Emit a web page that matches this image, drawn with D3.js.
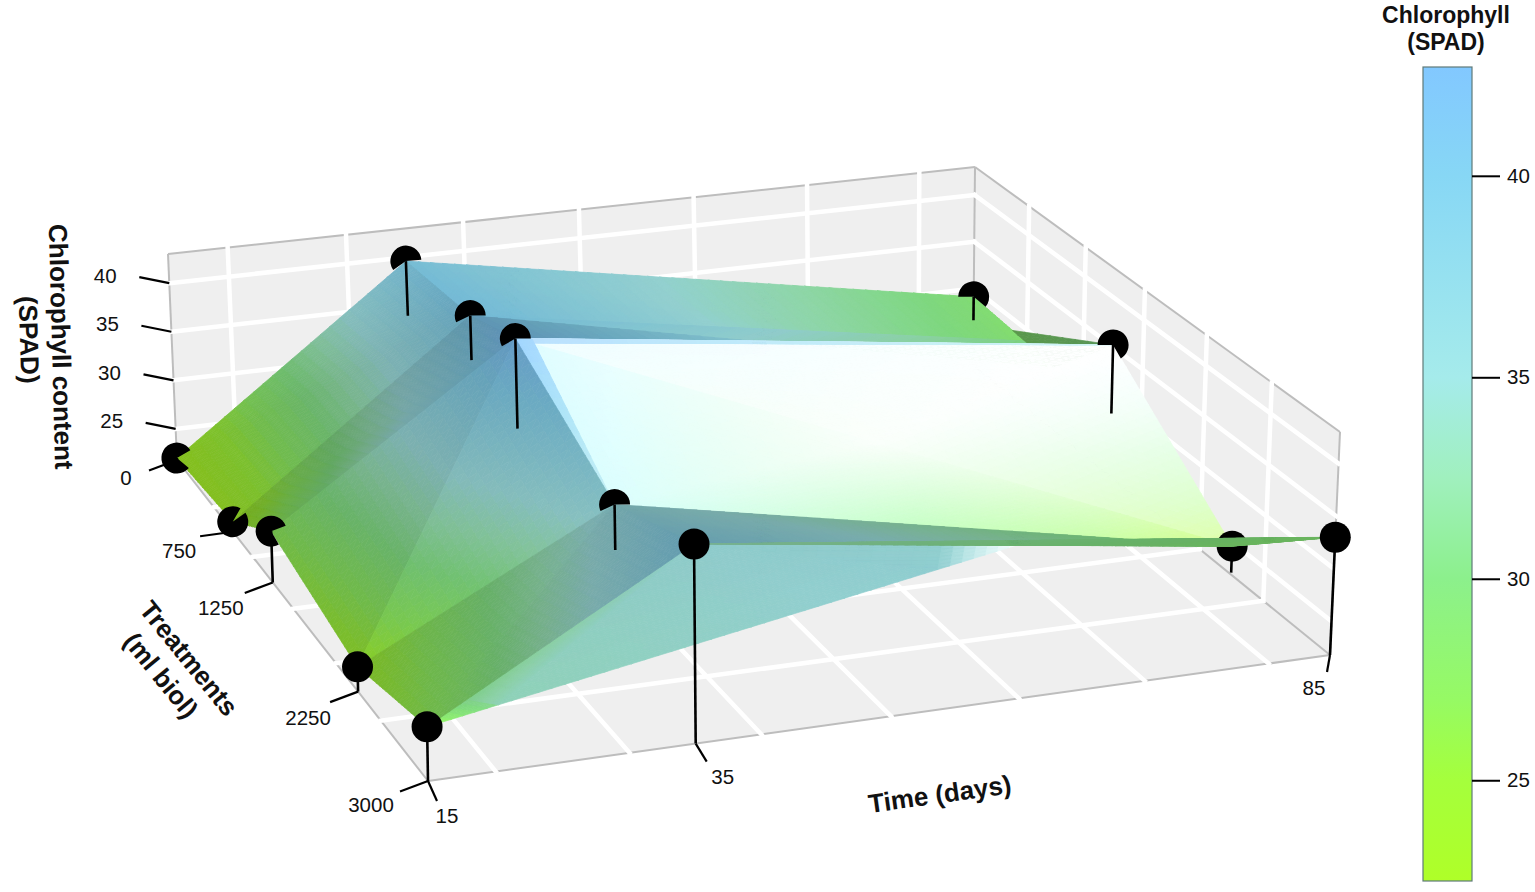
<!DOCTYPE html>
<html>
<head>
<meta charset="utf-8">
<script src="https://cdnjs.cloudflare.com/ajax/libs/d3/7.8.5/d3.min.js"></script>
<style>
  html, body { margin: 0; background: #fff; }
  text { font-family: "Liberation Sans", Arial, sans-serif; fill: #111; }
</style>
</head>
<body>
<div id="chart"></div>
<script>
// values
const times = [15, 35, 85];
const treatments = [0, 750, 1250, 2250, 3000];
const spad15 = [22.0, 22.8, 26.8, 24.1, 26.65];
const spad35 = [39.6, 40.6, 42.8, 36.2, 40.0];
const spad85 = [29.1, 28.4, 35.2, 24.6, 33.0];
const spad = [spad15, spad35, spad85];
// z at which the visible part of each drop line stops (null = reaches the floor)
const stop15 = [null, null, null, null, null];
const stop35 = [33.9, 36.1, 33.9, 31.9, null];
const stop85 = [26.6, null, 28.2, 22.0, null];
const stems = [stop15, stop35, stop85];

const timeTicks = [15, 35, 85];
const treatmentTicks = [0, 750, 1250, 2250, 3000];
const spadTicks = [25, 30, 35, 40];
const barTicks = [25, 30, 35, 40];
const timeGrid = [20, 30, 40, 50, 60, 70, 80];
const treatmentGrid = [500, 1000, 1500, 2000, 2500];

const barDomain = [22.5, 42.7];
const colorStops = [22.5, 25, 27, 30, 32.5, 35, 40, 42.7];
const colorRange = ["#afff28", "#a5ff3c", "#96fa64", "#8cf08c", "#a0f0be", "#a5ebeb", "#87d7f5", "#82c8ff"];

const width = 1535, height = 892;
const colorOf = d3.scaleLinear().domain(colorStops).range(colorRange).interpolate(d3.interpolateRgb).clamp(true);

// scales into the unit box
const uScale = d3.scaleLinear().domain([15, 85]).range([0, 1]);
const vScale = d3.scaleLinear().domain([0, 3000]).range([0, 1]);
const wScale = d3.scaleLinear().domain([21.8, 43]).range([0, 1]);
const zFloor = wScale.domain()[0], zTop = wScale.domain()[1];

// camera: where the box corners land on the page
const floorQuad = [[177, 460], [973, 365], [1330, 655], [428, 781]];
const ceilQuad = [[168, 254], [975, 167], [1340, 432], [424, 544]];

function homography(q) {
    const [x0, y0] = q[0], [x1, y1] = q[1], [x2, y2] = q[2], [x3, y3] = q[3];
    const dx1 = x1 - x2, dx2 = x3 - x2, sx = x0 - x1 + x2 - x3;
    const dy1 = y1 - y2, dy2 = y3 - y2, sy = y0 - y1 + y2 - y3;
    const det = dx1 * dy2 - dx2 * dy1;
    const g = (sx * dy2 - dx2 * sy) / det, h = (dx1 * sy - sx * dy1) / det;
    const a = x1 - x0 + g * x1, b = x3 - x0 + h * x3;
    const d = y1 - y0 + g * y1, e = y3 - y0 + h * y3;
    return (u, v) => {
        const k = g * u + h * v + 1;
        return [(a * u + b * v + x0) / k, (d * u + e * v + y0) / k];
    };
}
const floorH = homography(floorQuad), ceilH = homography(ceilQuad);

function project(t, tr, z) {
    const u = uScale(t), v = vScale(tr), w = wScale(z);
    const p0 = floorH(u, v), p1 = ceilH(u, v);
    return [p0[0] + (p1[0] - p0[0]) * w, p0[1] + (p1[1] - p0[1]) * w];
}

const svg = d3.select("#chart").append("svg").attr("width", width).attr("height", height);
const line = d3.line();

// walls and floor
const wallFill = "#efefef", edgeColor = "#bdbdbd";
const walls = svg.append("g");
const quad = pts => line(pts) + "Z";
walls.append("path").attr("fill", wallFill)
    .attr("d", quad([project(15, 0, zFloor), project(85, 0, zFloor), project(85, 3000, zFloor), project(15, 3000, zFloor)]));
walls.append("path").attr("fill", wallFill)
    .attr("d", quad([project(15, 0, zFloor), project(85, 0, zFloor), project(85, 0, zTop), project(15, 0, zTop)]));
walls.append("path").attr("fill", wallFill)
    .attr("d", quad([project(85, 0, zFloor), project(85, 3000, zFloor), project(85, 3000, zTop), project(85, 0, zTop)]));

const edges = [
    [[15, 0, zFloor], [15, 3000, zFloor]], [[15, 3000, zFloor], [85, 3000, zFloor]], [[85, 3000, zFloor], [85, 0, zFloor]],
    [[15, 0, zFloor], [15, 0, zTop]], [[15, 0, zTop], [85, 0, zTop]], [[85, 0, zTop], [85, 3000, zTop]],
    [[85, 3000, zTop], [85, 3000, zFloor]], [[85, 0, zTop], [85, 0, zFloor]]
];
walls.selectAll(".edge").data(edges).enter().append("path")
    .attr("class", "edge").attr("fill", "none").attr("stroke", edgeColor).attr("stroke-width", 2)
    .attr("d", d => line(d.map(p => project(...p))));

// white grid
const gridLines = [];
timeGrid.forEach(t => {
    gridLines.push([[t, 0, zFloor], [t, 3000, zFloor]]);
    gridLines.push([[t, 0, zFloor], [t, 0, zTop]]);
});
treatmentGrid.forEach(tr => {
    gridLines.push([[15, tr, zFloor], [85, tr, zFloor]]);
    gridLines.push([[85, tr, zFloor], [85, tr, zTop]]);
});
spadTicks.forEach(z => {
    gridLines.push([[15, 0, z], [85, 0, z]]);
    gridLines.push([[85, 0, z], [85, 3000, z]]);
});
walls.selectAll(".grid").data(gridLines).enter().append("path")
    .attr("class", "grid").attr("fill", "none").attr("stroke", "#fff").attr("stroke-width", 4.5)
    .attr("stroke-linecap", "square")
    .attr("d", d => line(d.map(p => project(...p))));

// tick marks and labels of the box
const axes = svg.append("g").attr("font-size", 20.5);
function tick(base, end, labelAt, label) {
    axes.append("path").attr("fill", "none").attr("stroke", "#000").attr("stroke-width", 2.2)
        .attr("d", line([base, [base[0] + end[0], base[1] + end[1]]]));
    axes.append("text").attr("x", base[0] + labelAt[0]).attr("y", base[1] + labelAt[1])
        .attr("text-anchor", "middle").attr("dy", "0.36em").text(label);
}
spadTicks.forEach(z => tick(project(15, 0, z), [-30, -6], [-64, -8], z));
const treatmentTickEnds = [[-28, 10.5], [-33, 4.5], [-28, 10.5], [-28, 10.5], [-28, 10.5]];
const treatmentLabelAt = [[-51, 18], [-54, 19], [-52, 25], [-50, 26], [-57, 24]];
treatmentTicks.forEach((tr, i) => tick(project(15, tr, zFloor), treatmentTickEnds[i], treatmentLabelAt[i], tr));
const timeTickEnds = [[9, 20], [11, 18], [-3, 17]];
const timeLabelAt = [[19, 35], [27, 33], [-16, 33]];
timeTicks.forEach((t, i) => tick(project(t, 3000, zFloor), timeTickEnds[i], timeLabelAt[i], t));

// surface
const V = (i, j) => {
    const p = project(times[i], treatments[j], spad[i][j]);
    return { x: p[0], y: p[1], z: spad[i][j] };
};
const mid = (a, b, s) => ({ x: a.x + (b.x - a.x) * s, y: a.y + (b.y - a.y) * s, z: a.z + (b.z - a.z) * s });
const v = times.map((t, i) => treatments.map((tr, j) => V(i, j)));
const frontP = project(60, 3000, 36.2);
const F = { x: frontP[0], y: frontP[1], z: 36.2 };
const M = mid(v[1][2], v[2][3], 0.5);
const P = mid(v[2][0], v[2][1], 0.48);
const Q = mid(v[1][2], v[2][2], 0.4);
const U = mid(v[1][2], v[2][2], 0.028);
const W = mid(v[1][2], v[1][3], 0.025);
const C1 = mid(v[0][4], F, 0.86);
const D1 = mid(v[1][4], F, 0.76);
const C0 = mid(v[0][4], C1, 0.14);
const E0 = mid(v[0][4], v[1][4], 0.15);

const arr = a => Array.isArray(a) ? a : [a, a, a];
const tri = (a, b, c, shade, gloss, cz) => ({ p: [a, b, c], shade: arr(shade), gloss: arr(gloss), cz: cz || [a.z, b.z, c.z] });

const backTris = [
    tri(v[1][0], v[2][0], v[2][1], [0.87, 0.9, 0.9], 0),
    tri(v[1][0], v[1][1], v[2][1], [0.87, 0.87, 0.9], 0),
    tri(v[1][1], v[2][2], v[2][1], 0.87, 0, [40.6, 29, 28.4]),
    tri(P, v[2][2], v[2][1], 0.62, 0, [28.5, 30, 29]),
    tri(v[1][1], v[1][2], Q, [0.72, 0.72, 0.86], 0, [41, 42, 37]),
    tri(v[1][2], v[2][2], M, 1.08, [0.8, 1, 0.95], [36.5, 36, 31]),
    tri(v[2][2], v[2][3], M, 1.08, [1, 0.55, 0.95], [36, 24.6, 31]),
    tri(v[1][2], v[1][3], M, 1.08, [0.62, 0.52, 0.95], [36.5, 35, 31]),
    tri(v[1][3], v[2][3], M, 1.08, [0.52, 0.42, 0.95], [35, 24.6, 31]),
    tri(v[1][2], v[2][2], W, 1, [0.45, 0.5, 0.45]),
    tri(v[1][2], v[1][3], U, 1, [0.25, 0.4, 0.3])
];
const frontTris = [
    tri(v[0][4], E0, C0, [1, 0.86, 0.9], 0, [26.65, 31, 31]),
    tri(E0, v[1][4], C0, [0.86, 0.86, 0.88], 0, [31, 35, 33.5]),
    tri(v[1][4], C1, C0, [0.86, 0.88, 0.88], 0, [35, 35.5, 33.5]),
    tri(v[1][4], D1, C1, [0.86, 0.88, 0.88], 0, [35, 35, 35.5]),
    tri(C1, D1, F, [0.88, 0.88, 1], [0, 0, 1], [35.5, 35, 35]),
    tri(v[1][3], v[2][3], v[1][4], [0.72, 0.76, 0.72], 0, [36, 29, 39]),
    tri(v[2][3], v[1][4], v[2][4], 0.74, 0, [29, 33, 29]),
    tri(v[0][0], v[1][1], v[1][0], [0.75, 0.76, 0.83], 0),
    tri(v[0][0], v[0][1], v[1][1], [0.75, 0.75, 0.76], 0),
    tri(v[0][1], v[0][2], v[1][2], [0.68, 0.7, 0.72], 0),
    tri(v[0][1], v[1][2], v[1][1], [0.68, 0.72, 0.7], 0),
    tri(v[0][2], v[0][3], v[1][2], [0.74, 0.74, 0.76], 0),
    tri(v[0][3], v[1][3], v[1][2], [0.8, 0.82, 0.78], 0),
    tri(v[0][3], v[0][4], v[1][3], [0.72, 0.74, 0.74], 0),
    tri(v[0][4], v[1][4], v[1][3], [0.74, 0.72, 0.72], 0)
];

const surface = svg.append("g");
function mixColor(z, shade, gloss) {
    const c = d3.rgb(colorOf(z));
    const f = ch => { const s = Math.min(255, ch * shade); return s + (255 - s) * gloss; };
    return d3.rgb(f(c.r), f(c.g), f(c.b)).formatHex();
}
function drawTri(t) {
    const [a, b, c] = t.p;
    const longest = d3.max([[a, b], [b, c], [c, a]], e => Math.hypot(e[0].x - e[1].x, e[0].y - e[1].y));
    const n = Math.max(1, Math.ceil(longest / 14));
    const at = (i, j) => {
        const k = n - i - j, wa = i / n, wb = j / n, wc = k / n;
        return {
            x: wa * a.x + wb * b.x + wc * c.x,
            y: wa * a.y + wb * b.y + wc * c.y,
            z: wa * t.cz[0] + wb * t.cz[1] + wc * t.cz[2],
            s: wa * t.shade[0] + wb * t.shade[1] + wc * t.shade[2],
            g: wa * t.gloss[0] + wb * t.gloss[1] + wc * t.gloss[2]
        };
    };
    const cells = [];
    for (let i = 0; i < n; i++) {
        for (let j = 0; j < n - i; j++) {
            cells.push([at(i, j), at(i + 1, j), at(i, j + 1)]);
            if (i + j < n - 1) cells.push([at(i + 1, j), at(i + 1, j + 1), at(i, j + 1)]);
        }
    }
    surface.append("g").selectAll("path").data(cells).enter().append("path")
        .each(function (d) {
            const col = mixColor(d3.mean(d, e => e.z), d3.mean(d, e => e.s), d3.mean(d, e => e.g));
            d3.select(this).attr("fill", col).attr("stroke", col).attr("stroke-width", 0.7)
                .attr("d", line(d.map(e => [e.x, e.y])) + "Z");
        });
}

// drop lines and dots; the surface cuts some dots, so each one shows only an arc (degrees, clockwise from 12)
const dotRadius = 15.5;
const dotArcs = [
    [[130, 420], [55, 390], [150, 430], [0, 360], [0, 360]],
    [[-125, 85], [-115, 90], [-120, 90], [-115, 90], [0, 360]],
    [[-90, 130], null, [-90, 150], [0, 360], [0, 360]]
];
const arc = d3.arc().innerRadius(0).outerRadius(dotRadius);
function drawDot(i, j) {
    const a = dotArcs[i][j];
    if (!a) return;
    surface.append("path").attr("fill", "#000")
        .attr("transform", `translate(${v[i][j].x},${v[i][j].y})`)
        .attr("d", arc({ startAngle: a[0] * Math.PI / 180, endAngle: a[1] * Math.PI / 180 }));
}
function drawStem(i, j) {
    if (!dotArcs[i][j]) return;
    const end = stems[i][j] === null ? zFloor : stems[i][j];
    surface.append("path").attr("fill", "none").attr("stroke", "#000").attr("stroke-width", 2.6)
        .attr("d", line([[v[i][j].x, v[i][j].y], project(times[i], treatments[j], end)]));
}

backTris.forEach(drawTri);
drawStem(2, 3);
drawDot(2, 3);
frontTris.forEach(drawTri);
times.forEach((t, i) => treatments.forEach((tr, j) => {
    if (i === 2 && j === 3) return;
    drawStem(i, j);
    drawDot(i, j);
}));

// axis titles
const titles = svg.append("g").attr("font-size", 26).attr("font-weight", "bold").attr("text-anchor", "middle");
const label = (x, y, rot, s) => titles.append("text").attr("transform", `translate(${x},${y}) rotate(${rot})`).text(s);
label(52, 347, 88.5, "Chlorophyll content");
label(20, 340, 88.5, "(SPAD)");
label(182, 664, 51, "Treatments");
label(154, 681, 51, "(ml biol)");
label(941, 803, -8, "Time (days)");

// colour bar
const barX = 1423, barW = 49, barTop = 67, barBottom = 881;
const barScale = d3.scaleLinear().domain(barDomain).range([barBottom, barTop]);
const grad = svg.append("defs").append("linearGradient").attr("id", "barGrad")
    .attr("x1", 0).attr("y1", 1).attr("x2", 0).attr("y2", 0);
colorStops.forEach((s, i) => grad.append("stop")
    .attr("offset", (s - barDomain[0]) / (barDomain[1] - barDomain[0]))
    .attr("stop-color", colorRange[i]));
svg.append("rect").attr("x", barX).attr("y", barTop).attr("width", barW).attr("height", barBottom - barTop)
    .attr("fill", "url(#barGrad)").attr("stroke", "#5f7a78").attr("stroke-width", 1.2);
const barAxis = svg.append("g").attr("transform", `translate(${barX + barW},0)`)
    .call(d3.axisRight(barScale).tickValues(barTicks).tickSize(28).tickPadding(7).tickFormat(d3.format("d")));
barAxis.select(".domain").remove();
barAxis.selectAll("line").attr("stroke", "#000").attr("stroke-width", 2);
barAxis.selectAll("text").attr("font-size", 20.5).attr("font-family", null);

const barTitle = svg.append("g").attr("font-size", 23).attr("font-weight", "bold").attr("text-anchor", "middle");
barTitle.append("text").attr("x", 1446).attr("y", 23).text("Chlorophyll");
barTitle.append("text").attr("x", 1446).attr("y", 50).text("(SPAD)");
</script>
</body>
</html>
